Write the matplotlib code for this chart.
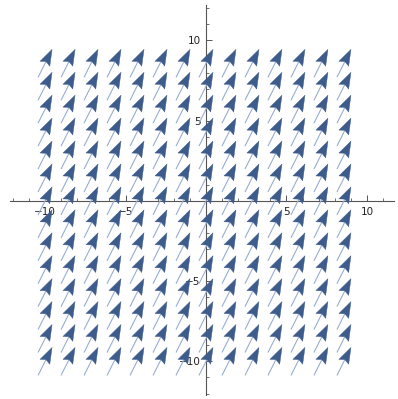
import numpy as np
import matplotlib
matplotlib.use('Agg')
import matplotlib.pyplot as plt
from matplotlib.collections import PolyCollection, LineCollection

# constant vector field {1, 2} sampled on a 14 x 14 grid over [-10, 10)
grid_x = [-10 + k * 20 / 14 for k in range(14)]
grid_y = [-10 + k * 20 / 14 for k in range(14)]
field_u = 1.0
field_v = 2.0
tick_major = [-10, -5, 5, 10]
tick_labels = ['\u221210', '\u22125', '5', '10']

ARROW_LEN = 1.95    # full arrow length in data units
HEAD_LEN = 1.0
HEAD_HALF = 0.34
NOTCH = 0.15
HEAD_COLOR = '#3d5b8b'
SHAFT_COLOR = '#98add2'
AXIS_COLOR = '#555555'

fig = plt.figure(figsize=(3.98, 3.99), dpi=100)
ax = fig.add_axes([0, 0, 1, 1])
ax.set_xlim(-12.8, 11.93)
ax.set_ylim(-12.34, 12.52)

d = np.array([field_u, field_v])
d = d / np.linalg.norm(d)
n = np.array([-d[1], d[0]])

heads = []
shafts = []
for x in grid_x:
    for y in grid_y:
        c = np.array([x, y])
        tip = c + 0.5 * ARROW_LEN * d
        tail = c - 0.5 * ARROW_LEN * d
        back = tip - HEAD_LEN * d
        notch = back + NOTCH * HEAD_LEN * d
        heads.append([tip, back + HEAD_HALF * n, notch, back - HEAD_HALF * n])
        shafts.append([tail, notch])

ax.add_collection(LineCollection(shafts, colors=SHAFT_COLOR, linewidths=0.8, zorder=2))
ax.add_collection(PolyCollection(heads, facecolors=HEAD_COLOR, edgecolors=HEAD_COLOR,
                                 linewidths=0.3, zorder=3))

# axes through the origin
for side in ['top', 'right']:
    ax.spines[side].set_visible(False)
ax.spines['left'].set_position(('data', 0))
ax.spines['bottom'].set_position(('data', 0))
ax.spines['bottom'].set_bounds(-12.2, 11.7)
ax.spines['left'].set_bounds(-12.1, 12.2)
for side in ['left', 'bottom']:
    ax.spines[side].set_color(AXIS_COLOR)
    ax.spines[side].set_linewidth(0.8)
    ax.spines[side].set_zorder(1)

ax.set_xticks(tick_major)
ax.set_xticklabels(tick_labels)
ax.set_yticks(tick_major)
ax.set_yticklabels(tick_labels)
minor = [v for v in range(-12, 12) if v % 5 != 0]
ax.set_xticks(minor, minor=True)
ax.set_yticks([v for v in range(-12, 13) if v % 5 != 0], minor=True)
ax.tick_params(which='major', direction='in', length=4, width=0.7, color=AXIS_COLOR,
               labelsize=7.5, labelcolor='#222222', pad=4)
ax.tick_params(which='minor', direction='in', length=2, width=0.6, color=AXIS_COLOR)

fig.savefig('out.png', dpi=100)
